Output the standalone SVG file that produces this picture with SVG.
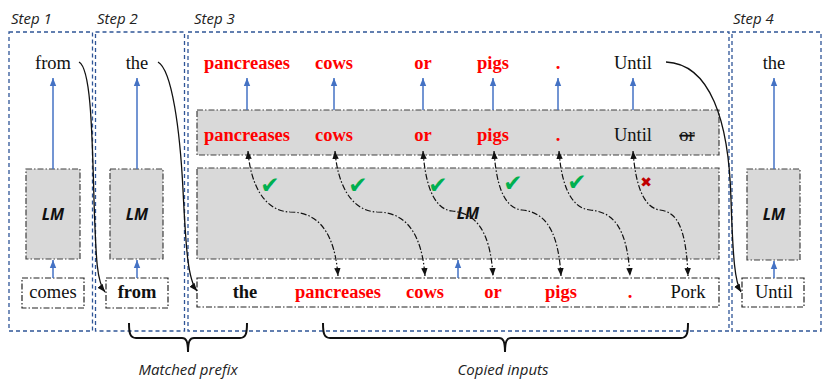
<svg xmlns="http://www.w3.org/2000/svg" width="831" height="387" viewBox="0 0 831 387">
<style>
.step{fill:none;stroke:#2F5597;stroke-width:1.3;stroke-dasharray:4 3}
.lbl{font-family:"Open Sans","Liberation Sans",sans-serif;font-style:italic;font-size:15px;fill:#222}
.gray{fill:#D9D9D9;stroke:#404040;stroke-width:1.2;stroke-dasharray:6 2 1.5 2}
.box{fill:#fff;stroke:#222;stroke-width:1.2;stroke-dasharray:6 2 1.5 2}
.w{font-family:"Liberation Serif","Times New Roman",serif;font-size:18.5px;fill:#111;text-anchor:middle}
.r{fill:#FF0000;font-weight:bold}
.b{font-weight:bold}
.lm{font-family:"Open Sans","Liberation Sans",sans-serif;font-style:italic;font-weight:bold;font-size:16px;fill:#111;text-anchor:middle}
.ba{stroke:#4472C4;stroke-width:1.5;fill:none;marker-end:url(#ab)}
.cur{stroke:#111;stroke-width:1.3;fill:none;marker-end:url(#ak)}
.dd{stroke:#111;stroke-width:1.2;fill:none;stroke-dasharray:6 2 1.5 2;marker-start:url(#aks);marker-end:url(#ak)}
.brace{stroke:#111;stroke-width:2;fill:none}
.ck{font-family:"DejaVu Sans",sans-serif;font-size:23px;fill:#00B050;text-anchor:middle}
.x{font-family:"DejaVu Sans",sans-serif;font-size:14px;fill:#C00000;text-anchor:middle}
</style>
<defs>
<marker id="ab" markerUnits="userSpaceOnUse" markerWidth="8" markerHeight="8" viewBox="0 0 8 8" refX="8" refY="4" orient="auto"><path d="M0,0.8 L8,4 L0,7.2 Z" fill="#4472C4"/></marker>
<marker id="ak" markerUnits="userSpaceOnUse" markerWidth="8" markerHeight="8" viewBox="0 0 8 8" refX="8" refY="4" orient="auto"><path d="M0,0.8 L8,4 L0,7.2 Z" fill="#111"/></marker>
<marker id="aks" markerUnits="userSpaceOnUse" markerWidth="8" markerHeight="8" viewBox="0 0 8 8" refX="0" refY="4" orient="auto"><path d="M8,0.8 L0,4 L8,7.2 Z" fill="#111"/></marker>
</defs>

<g id="step1">
<rect class="step" x="9" y="32" width="83.5" height="299"/>
<text class="lbl" x="11" y="24">Step 1</text>
<text class="w" x="53" y="69">from</text>
<rect class="gray" x="26" y="169" width="54" height="90"/>
<text class="lm" x="53" y="220">LM</text>
<rect class="box" x="22" y="278" width="62" height="30"/>
<text class="w" x="53" y="298">comes</text>
</g>

<g id="step2">
<rect class="step" x="95.5" y="32" width="89" height="299"/>
<text class="lbl" x="97" y="24">Step 2</text>
<text class="w" x="137" y="69">the</text>
<rect class="gray" x="110" y="169" width="53" height="90"/>
<text class="lm" x="137" y="220">LM</text>
<rect class="box" x="106" y="278" width="62" height="30"/>
<text class="w b" x="137" y="298">from</text>
</g>

<g id="step3">
<rect class="step" x="188" y="32" width="541" height="299"/>
<text class="lbl" x="194" y="24">Step 3</text>
<text class="w r" x="247" y="69">pancreases</text>
<text class="w r" x="334" y="69">cows</text>
<text class="w r" x="423" y="69">or</text>
<text class="w r" x="493" y="69">pigs</text>
<text class="w r" x="558" y="69">.</text>
<text class="w" x="633" y="69">Until</text>
</g>

<g id="step3-outputs">
<rect class="gray" x="197" y="110" width="522" height="45"/>
<text class="w r" x="247" y="141">pancreases</text>
<text class="w r" x="334" y="141">cows</text>
<text class="w r" x="423" y="141">or</text>
<text class="w r" x="493" y="141">pigs</text>
<text class="w r" x="558" y="141">.</text>
<text class="w" x="633" y="141">Until</text>
<text class="w" x="687" y="141" text-decoration="line-through">or</text>
</g>

<g id="step3-lm">
<rect class="gray" x="197" y="168" width="522" height="91"/>
<text class="lm" x="468" y="219">LM</text>
</g>

<g id="step3-inputs">
<rect class="box" x="197" y="278" width="522" height="29"/>
<text class="w b" x="245" y="298">the</text>
<text class="w r" x="338" y="298">pancreases</text>
<text class="w r" x="425" y="298">cows</text>
<text class="w r" x="493" y="298">or</text>
<text class="w r" x="561" y="298">pigs</text>
<text class="w r" x="630" y="298">.</text>
<text class="w" x="688" y="298">Pork</text>
</g>

<g id="step4">
<rect class="step" x="732" y="32" width="89" height="299"/>
<text class="lbl" x="733" y="24">Step 4</text>
<text class="w" x="774" y="69">the</text>
<rect class="gray" x="747" y="169" width="53" height="91"/>
<text class="lm" x="774" y="220">LM</text>
<rect class="box" x="742" y="278" width="62" height="29"/>
<text class="w" x="774" y="298">Until</text>
</g>

<g id="marks">
<text class="ck" x="270" y="193">✔</text>
<text class="ck" x="358" y="193">✔</text>
<text class="ck" x="438" y="193">✔</text>
<text class="ck" x="513" y="191">✔</text>
<text class="ck" x="577" y="190">✔</text>
<text class="x" x="646" y="187">✖</text>
</g>

<g id="connectors">
<path class="ba" d="M53,169 V78"/>
<path class="ba" d="M53,278 V260"/>
<path class="ba" d="M137,169 V78"/>
<path class="ba" d="M137,278 V260"/>
<path class="ba" d="M247,110 V78"/>
<path class="ba" d="M334,110 V78"/>
<path class="ba" d="M423,110 V78"/>
<path class="ba" d="M493,110 V78"/>
<path class="ba" d="M558,110 V78"/>
<path class="ba" d="M633,110 V78"/>
<path class="ba" d="M458,278 V260"/>
<path class="ba" d="M774,169 V78"/>
<path class="ba" d="M774,278 V261"/>

<path class="cur" d="M79,62 C90,68 92,120 94,200 C96,262 97,282 105,292"/>
<path class="cur" d="M158,62 C172,70 180,130 183,190 C186,250 188,280 197,291"/>
<path class="cur" d="M666,62 C710,64 729,120 731,200 C733,260 735,282 741,292"/>

<path class="dd" d="M248,151 C250,180 262,211 290,212 C310,212 334,222 338,276"/>
<path class="dd" d="M335,151 C337,180 349,211 377,212 C397,212 421,222 425,276"/>
<path class="dd" d="M423,151 C425,180 432,209 452,211 C472,213 490,225 493,276"/>
<path class="dd" d="M494,151 C496,180 502,208 522,210 C542,212 558,225 561,276"/>
<path class="dd" d="M559,151 C561,180 569,208 590,210 C612,212 627,225 630,276"/>
<path class="dd" d="M633,151 C635,180 642,208 660,210 C676,212 686,225 688,276"/>
</g>

<g id="brace-matched">
<path class="brace" d="M129,323 C129,333 130,338 136,338 L182,338 C186,338 188,341 188,352 C188,341 190,338 194,338 L240,338 C246,338 247,333 247,323"/>
<text class="lbl" x="188" y="375" text-anchor="middle">Matched prefix</text>
</g>

<g id="brace-copied">
<path class="brace" d="M323,323 C323,333 324,338 330,338 L499,338 C503,338 505,341 505,352 C505,341 507,338 511,338 L681,338 C687,338 688,333 688,323"/>
<text class="lbl" x="503" y="375" text-anchor="middle">Copied inputs</text>
</g>
</svg>
